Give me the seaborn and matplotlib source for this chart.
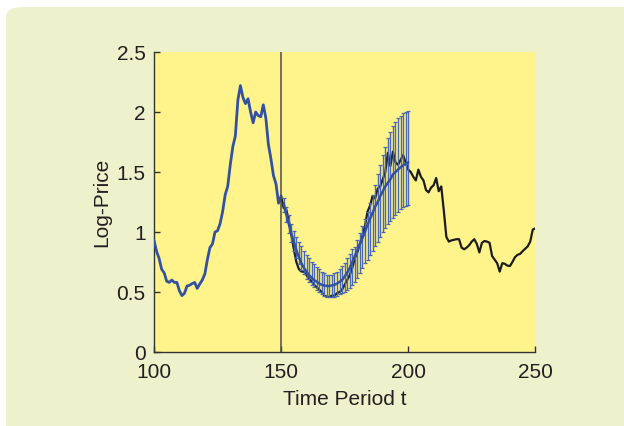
import numpy as np
import pandas as pd
import matplotlib
matplotlib.use("Agg")
import matplotlib.pyplot as plt
from matplotlib.patches import FancyBboxPatch
import seaborn as sns

# in-sample log-price, t = 100..150
hist_t = list(range(100, 151))
hist_v = [0.93, 0.84, 0.78, 0.69, 0.66, 0.59, 0.58, 0.60, 0.58, 0.58,
          0.51, 0.47, 0.49, 0.55, 0.556, 0.57, 0.58, 0.53, 0.567, 0.60,
          0.65, 0.77, 0.87, 0.90, 1.00, 1.01, 1.07, 1.17, 1.31, 1.38,
          1.56, 1.71, 1.80, 2.10, 2.22, 2.12, 2.07, 2.11, 2.00, 1.91,
          2.00, 1.97, 1.96, 2.06, 1.95, 1.73, 1.61, 1.47, 1.40, 1.24,
          1.30]

# realised log-price, t = 150..250
actual_t = list(range(150, 251))
actual_v = [1.30, 1.20, 1.19, 1.10, 0.98, 0.86, 0.75, 0.69, 0.67, 0.67,
            0.64, 0.61, 0.59, 0.56, 0.54, 0.52, 0.50, 0.47, 0.46, 0.46,
            0.47, 0.47, 0.49, 0.50, 0.52, 0.56, 0.60, 0.64, 0.70, 0.78,
            0.83, 0.90, 0.97, 1.05, 1.17, 1.22, 1.30, 1.28, 1.36, 1.38,
            1.44, 1.50, 1.66, 1.55, 1.67, 1.58, 1.56, 1.60, 1.64, 1.58,
            1.52, 1.50, 1.46, 1.43, 1.52, 1.46, 1.43, 1.35, 1.33, 1.37,
            1.39, 1.45, 1.34, 1.38, 1.18, 0.96, 0.92, 0.93, 0.935, 0.94,
            0.94, 0.87, 0.856, 0.87, 0.89, 0.92, 0.94, 0.90, 0.83, 0.91,
            0.925, 0.92, 0.91, 0.80, 0.77, 0.74, 0.67, 0.74, 0.735, 0.72,
            0.716, 0.75, 0.79, 0.81, 0.817, 0.84, 0.86, 0.88, 0.92, 1.02,
            1.03]

# forecast mean and band, t = 151..200
fc_t = list(range(151, 201))
fc_mean = [1.24, 1.15, 1.07, 0.99, 0.92, 0.85, 0.79, 0.74, 0.70, 0.67,
           0.64, 0.62, 0.60, 0.585, 0.57, 0.56, 0.555, 0.55, 0.55, 0.555,
           0.56, 0.57, 0.585, 0.60, 0.63, 0.66, 0.70, 0.75, 0.80, 0.85,
           0.90, 0.95, 1.00, 1.06, 1.11, 1.16, 1.21, 1.25, 1.30, 1.34,
           1.38, 1.41, 1.44, 1.48, 1.50, 1.52, 1.54, 1.555, 1.57, 1.58]
fc_lo = [1.17, 1.08, 0.99, 0.92, 0.84, 0.78, 0.73, 0.68, 0.65, 0.61,
         0.58, 0.56, 0.54, 0.52, 0.50, 0.485, 0.47, 0.46, 0.455, 0.455,
         0.46, 0.47, 0.48, 0.49, 0.50, 0.515, 0.535, 0.555, 0.58, 0.62,
         0.655, 0.70, 0.74, 0.77, 0.81, 0.845, 0.88, 0.92, 0.96, 1.00,
         1.03, 1.065, 1.09, 1.12, 1.145, 1.165, 1.19, 1.205, 1.215, 1.225]
fc_hi = [1.28, 1.21, 1.14, 1.07, 1.01, 0.96, 0.92, 0.88, 0.84, 0.81,
         0.78, 0.75, 0.73, 0.71, 0.69, 0.67, 0.655, 0.645, 0.64, 0.645,
         0.655, 0.67, 0.69, 0.715, 0.745, 0.78, 0.82, 0.86, 0.875, 0.93,
         0.99, 1.05, 1.11, 1.17, 1.24, 1.31, 1.39, 1.48, 1.56, 1.64,
         1.71, 1.78, 1.83, 1.88, 1.92, 1.95, 1.97, 1.99, 2.00, 2.01]

xticks = [100, 150, 200, 250]
yticks = [0, 0.5, 1, 1.5, 2, 2.5]
ytick_labels = ["0", "0.5", "1", "1.5", "2", "2.5"]

hist = pd.DataFrame({"t": hist_t, "v": hist_v})
actual = pd.DataFrame({"t": actual_t, "v": actual_v})
fc = pd.DataFrame({"t": fc_t, "mean": fc_mean, "lo": fc_lo, "hi": fc_hi})

sns.set_style("ticks")
plt.rcParams["font.family"] = ["Liberation Sans", "DejaVu Sans"]

blue = "#3251a3"
text_col = "#231f20"
fig = plt.figure(figsize=(6.24, 4.26), dpi=100, facecolor="white")

# rounded light-green panel behind the plot
panel = FancyBboxPatch((6 / 624, -0.05), 1.1, (426 - 7) / 426 + 0.05,
                       boxstyle="round,pad=0,rounding_size=0.025",
                       transform=fig.transFigure, facecolor="#edf2cc",
                       edgecolor="none", zorder=-10)
fig.patches.append(panel)

ax = fig.add_axes([154 / 624, 74 / 426, (535.3 - 154) / 624, 300 / 426])
ax.set_zorder(1)
ax.set_facecolor("#fff48c")

sns.lineplot(data=hist, x="t", y="v", ax=ax, color=blue, linewidth=2, zorder=3)
sns.lineplot(data=actual, x="t", y="v", ax=ax, color="#1c1c1c", linewidth=1.6, zorder=2)
ax.errorbar(fc["t"], fc["mean"],
            yerr=[fc["mean"] - fc["lo"], fc["hi"] - fc["mean"]],
            fmt="none", ecolor="#4a69b2", elinewidth=1.0, capsize=1.3,
            capthick=0.9, zorder=3)
sns.lineplot(data=fc, x="t", y="mean", ax=ax, color=blue, linewidth=1.8, zorder=4)
ax.axvline(150, color="#4d4d45", linewidth=1.1, zorder=5)

ax.set_xlim(100, 250)
ax.set_ylim(0, 2.5)
ax.set_xticks(xticks)
ax.set_xticklabels([str(x) for x in xticks])
ax.set_yticks(yticks)
ax.set_yticklabels(ytick_labels)
ax.tick_params(direction="in", length=4, width=1, colors="#333333",
               labelsize=15, labelcolor=text_col, pad=6)
ax.tick_params(axis="x", pad=8)
ax.set_xlabel("Time Period t", fontsize=15, color=text_col, labelpad=6)
ax.set_ylabel("Log-Price", fontsize=15, color=text_col, labelpad=4)
sns.despine(ax=ax)
for s in ["left", "bottom"]:
    ax.spines[s].set_color("#333333")
    ax.spines[s].set_linewidth(1)

fig.savefig("out.png", dpi=100, facecolor="white")
